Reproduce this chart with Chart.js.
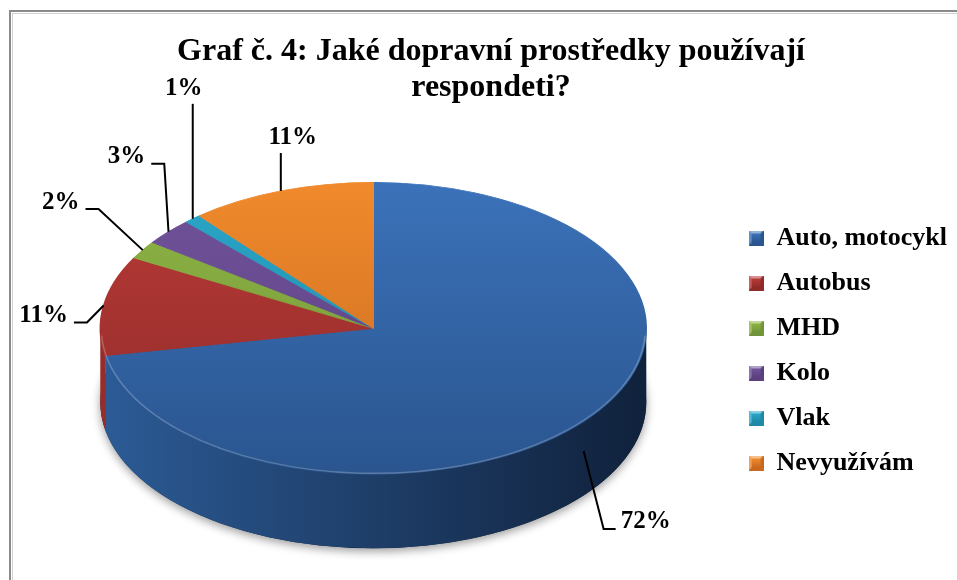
<!DOCTYPE html>
<html>
<head>
<meta charset="utf-8">
<script src="https://cdn.jsdelivr.net/npm/chart.js@4.4.0/dist/chart.umd.min.js"></script>
<style>
  html, body { margin: 0; padding: 0; background: #fff; }
  canvas { display: block; }
</style>
</head>
<body>
<canvas id="pie3d" width="957" height="580"></canvas>
<script>
const categories = ['Auto, motocykl', 'Autobus', 'MHD', 'Kolo', 'Vlak', 'Nevyužívám'];
const shares = [72, 11, 2, 3, 1, 11];
const titleLines = ['Graf č. 4: Jaké dopravní prostředky používají', 'respondeti?'];

// top face gradient (top -> bottom) and side wall gradient (left -> right)
const topLight  = ['#3b72b9', '#b93a37', '#8eb544', '#71529b', '#2aa6c8', '#f08a2c'];
const topDark   = ['#2a558f', '#8f2b29', '#71933a', '#5a407e', '#1e88a5', '#c8691f'];
const sideLight = ['#2c5b96', '#962d2b', '#6c8c33', '#553c78', '#1b7f9b', '#b85f1c'];
const sideDark  = ['#10213b', '#5e1b1a', '#4a6122', '#3a2853', '#115569', '#7b3f12'];

// % label position relative to its leader anchor on the rim
const labelOffsets = [[62, 71], [-60, 10], [-82, -48], [-42, -75], [-9, -130], [12, -53]];

// ellipse the library's circle is mapped onto
const PIE = { rx: 273, ry: 146, depth: 74, shiftX: -4, shiftY: 26 };

function pieGeom(chart) {
   const arc = chart.getDatasetMeta(0).data[0];
   return { ax: arc.x, ay: arc.y, r: arc.outerRadius,
            cx: arc.x + PIE.shiftX, cy: arc.y + PIE.shiftY, rx: PIE.rx, ry: PIE.ry };
}

function bevelBox(light, dark) {
   const s = 15, b = 3, c = document.createElement('canvas');
   c.width = s; c.height = s;
   const x = c.getContext('2d');
   const quad = (pts, col) => { x.fillStyle = col; x.beginPath(); pts.forEach(([p, q], k) => k ? x.lineTo(p, q) : x.moveTo(p, q)); x.closePath(); x.fill(); };
   x.fillStyle = light; x.fillRect(0, 0, s, s);
   quad([[0, 0], [s, 0], [s - b, b], [b, b]], 'rgba(255,255,255,0.45)');
   quad([[0, 0], [b, b], [b, s - b], [0, s]], 'rgba(255,255,255,0.2)');
   quad([[s, 0], [s, s], [s - b, s - b], [s - b, b]], dark);
   quad([[0, s], [b, s - b], [s - b, s - b], [s, s]], dark);
   const g = x.createLinearGradient(0, b, 0, s - b);
   g.addColorStop(0, light); g.addColorStop(1, dark);
   x.fillStyle = g; x.fillRect(b, b, s - 2 * b, s - 2 * b);
   return c;
}
const legendBoxes = topLight.map((c, i) => bevelBox(c, topDark[i]));

function faceColor(c) {
   const area = c.chart.chartArea;
   if (!area) return topLight[c.dataIndex];
   const g = c.chart.ctx.createLinearGradient(0, area.top, 0, area.bottom);
   g.addColorStop(0, topLight[c.dataIndex]);
   g.addColorStop(1, topDark[c.dataIndex]);
   return g;
}

function drawSides(chart) {
   const ctx = chart.ctx, g = pieGeom(chart);
   const arcs = chart.getDatasetMeta(0).data;
   ctx.save();
   // soft shadow under the whole pie
   ctx.shadowColor = 'rgba(0,0,0,0.4)';
   ctx.shadowBlur = 10;
   ctx.shadowOffsetY = 3;
   ctx.fillStyle = sideDark[0];
   ctx.beginPath();
   ctx.ellipse(g.cx, g.cy + PIE.depth, g.rx, g.ry, 0, 0, Math.PI * 2);
   ctx.fill();
   ctx.restore();

   ctx.save();
   arcs.forEach((arc, i) => {
      const a0 = Math.max(arc.startAngle, 0), a1 = Math.min(arc.endAngle, Math.PI);
      if (a1 <= a0) return;
      const grad = ctx.createLinearGradient(g.cx - g.rx, 0, g.cx + g.rx, 0);
      grad.addColorStop(0, sideLight[i]);
      grad.addColorStop(1, sideDark[i]);
      ctx.fillStyle = grad;
      ctx.beginPath();
      ctx.ellipse(g.cx, g.cy, g.rx, g.ry, 0, a0, a1);
      ctx.ellipse(g.cx, g.cy + PIE.depth, g.rx, g.ry, 0, a1, a0, true);
      ctx.closePath();
      ctx.fill();
   });
   ctx.restore();
}

function drawValueLabels(chart) {
   const ctx = chart.ctx, g = pieGeom(chart);
   ctx.save();
   // light edge along the front of the top face
   ctx.strokeStyle = 'rgba(255,255,255,0.22)';
   ctx.lineWidth = 1.5;
   ctx.beginPath();
   ctx.ellipse(g.cx, g.cy, g.rx - 1, g.ry - 1, 0, 0.05, Math.PI - 0.05);
   ctx.stroke();

   ctx.font = 'bold 25px "Liberation Serif"';
   ctx.fillStyle = '#000';
   ctx.strokeStyle = '#000';
   ctx.lineWidth = 2;
   ctx.textBaseline = 'middle';
   ctx.textAlign = 'center';
   chart.getDatasetMeta(0).data.forEach((arc, i) => {
      const mid = (arc.startAngle + arc.endAngle) / 2;
      const ax = g.cx + g.rx * Math.cos(mid);
      let ay = g.cy + g.ry * Math.sin(mid);
      if (Math.sin(mid) > 0) ay += PIE.depth * 0.4;
      const [dx, dy] = labelOffsets[i];
      const lx = ax + dx, ly = ay + dy;
      const text = shares[i] + '%';
      const w = ctx.measureText(text).width;
      let pts;
      if (Math.abs(dx) < 30) {
         pts = [[ax, ay], [ax, ly + 15]];
      } else if (dx > 0) {
         const tx = lx - w / 2 - 5, ty = ly + 7;
         pts = [[ax, ay], [tx - 12, ty], [tx, ty]];
      } else {
         const tx = lx + w / 2 + 6, ty = ly + 7;
         pts = [[ax, ay], [tx + 13, ty], [tx, ty]];
      }
      ctx.beginPath();
      pts.forEach(([x, y], k) => k ? ctx.lineTo(x, y) : ctx.moveTo(x, y));
      ctx.stroke();
      ctx.fillText(text, lx, ly);
   });
   ctx.restore();
}

const pie3d = {
   id: 'pie3d',
   beforeDraw(chart) {
      const ctx = chart.ctx;
      ctx.save();
      ctx.fillStyle = '#fff';
      ctx.fillRect(0, 0, chart.width, chart.height);
      ctx.strokeStyle = '#8a8a8a';
      ctx.lineWidth = 2;
      ctx.strokeRect(10, 11, chart.width + 20, chart.height + 20);
      ctx.strokeStyle = '#d0d0d0';
      ctx.lineWidth = 1;
      ctx.strokeRect(12.5, 13.5, chart.width + 20, chart.height + 20);
      ctx.restore();
   },
   beforeDatasetsDraw(chart) {
      drawSides(chart);
      const ctx = chart.ctx, g = pieGeom(chart);
      ctx.save();
      ctx.translate(g.cx, g.cy);
      ctx.scale(g.rx / g.r, g.ry / g.r);
      ctx.translate(-g.ax, -g.ay);
   },
   afterDatasetsDraw(chart) {
      chart.ctx.restore();
      drawValueLabels(chart);
   }
};

const chart = new Chart(document.getElementById('pie3d'), {
   type: 'pie',
   data: {
      labels: categories,
      datasets: [{
         data: shares,
         backgroundColor: faceColor,
         borderColor: faceColor,
         borderWidth: 1,
         clip: false
      }]
   },
   options: {
      responsive: false,
      animation: false,
      layout: { padding: { left: 25, right: 0, top: 0, bottom: 85 } },
      plugins: {
         title: {
            display: true,
            text: titleLines,
            color: '#000',
            font: { family: 'Liberation Serif', size: 32, weight: 'bold', lineHeight: 1.12 },
            padding: { top: 34, bottom: 4 }
         },
         legend: {
            position: 'right',
            fullSize: false,
            align: 'end',
            maxWidth: 229,
            labels: {
               color: '#000',
               font: { family: 'Liberation Serif', size: 26, weight: 'bold' },
               padding: 19,
               boxWidth: 15,
               boxHeight: 15,
               usePointStyle: true,
               generateLabels(chart) {
                  const items = Chart.overrides.doughnut.plugins.legend.labels.generateLabels(chart);
                  items.forEach((it, i) => { it.pointStyle = legendBoxes[i]; it.fontColor = '#000'; });
                  return items;
               }
            }
         },
         tooltip: { enabled: false }
      }
   },
   plugins: [pie3d]
});
</script>
</body>
</html>
